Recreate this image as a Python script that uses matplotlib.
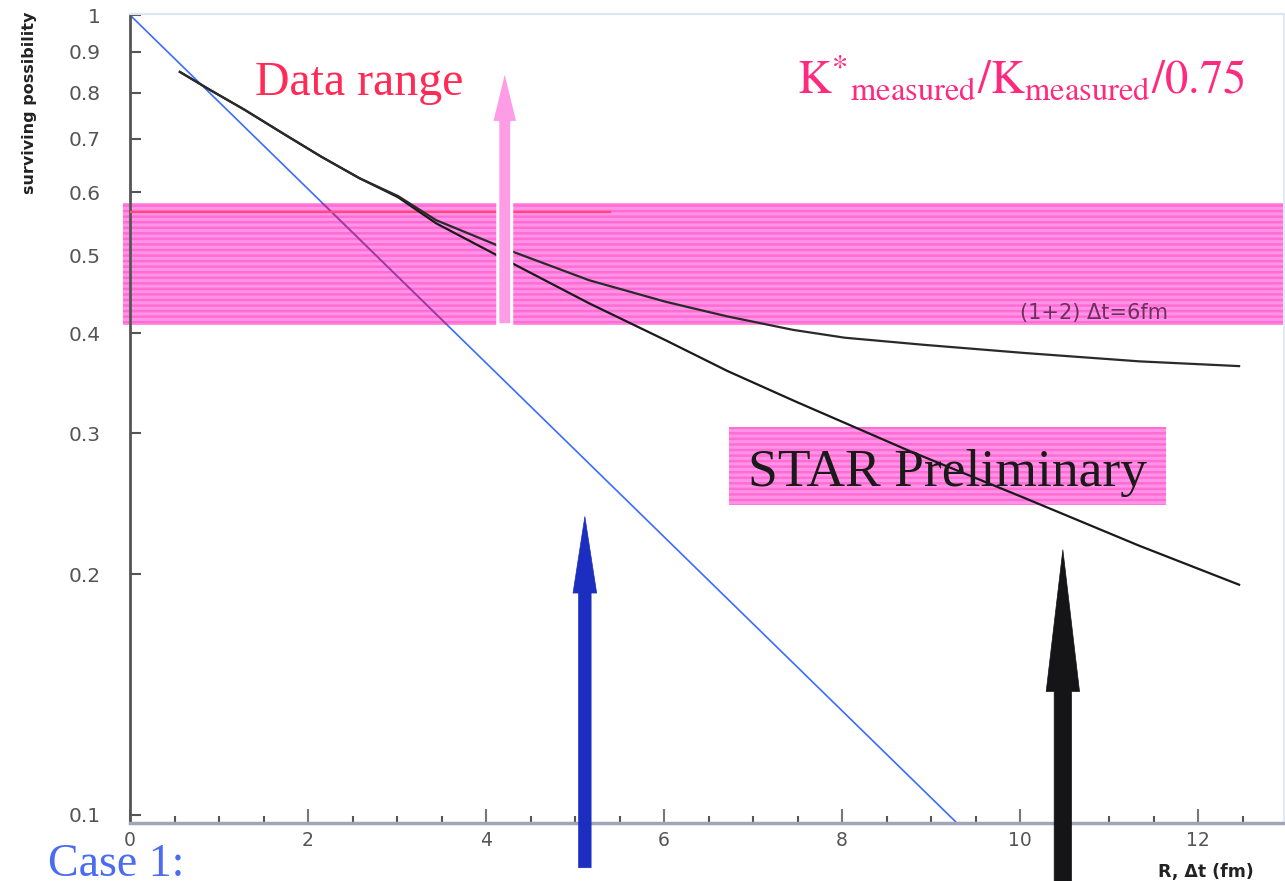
import matplotlib
matplotlib.use("Agg")
import matplotlib.pyplot as plt
from matplotlib.patches import Rectangle
from matplotlib.ticker import FixedLocator, NullLocator, MultipleLocator, FixedFormatter

plt.rcParams['mathtext.fontset'] = 'stix'
plt.rcParams['hatch.linewidth'] = 2.2

# ---------------- data ----------------
# exponential decay (straight in log-y)
blue_x = [0.0, 9.29]
blue_y = [1.0, 0.0977]

# curve that keeps falling
lower_x = [0.56, 0.90, 1.29, 1.72, 2.15, 2.58, 3.01, 3.44, 4.30, 5.16, 6.02, 6.71,
           7.47, 8.76, 10.05, 11.34, 12.46]
lower_y = [0.849, 0.806, 0.761, 0.711, 0.665, 0.625, 0.592, 0.549, 0.489, 0.436, 0.392, 0.359,
           0.329, 0.285, 0.249, 0.217, 0.194]

# curve that flattens: (1+2) dt = 6 fm
upper_x = [0.56, 0.90, 1.29, 1.72, 2.15, 2.58, 3.01, 3.44, 4.30, 5.16, 6.02, 6.71,
           7.45, 8.03, 8.92, 10.05, 11.34, 12.46]
upper_y = [0.849, 0.806, 0.761, 0.711, 0.665, 0.625, 0.594, 0.554, 0.506, 0.466, 0.438, 0.420,
           0.404, 0.395, 0.387, 0.378, 0.369, 0.364]

# measured band K*/K/0.75
band_x = [-0.08, 12.98]
band_y = [0.410, 0.582]
redline_x = [0.0, 5.39]
redline_y = [0.567, 0.567]

# STAR Preliminary box
star_x = [6.73, 11.64]
star_y = [0.2443, 0.3055]

# arrows: (x, base, tip)
pink_arrow = (4.21, 0.410, 0.858)
blue_arrow = (5.11, 0.0859, 0.236)
black_arrow = (10.48, 0.080, 0.2145)

yticks = [0.1, 0.2, 0.3, 0.4, 0.5, 0.6, 0.7, 0.8, 0.9, 1.0]
ytick_labels = ["0.1", "0.2", "0.3", "0.4", "0.5", "0.6", "0.7", "0.8", "0.9", "1"]
xticks = [0, 2, 4, 6, 8, 10, 12]

# ---------------- figure ----------------
fig = plt.figure(figsize=(12.85, 8.81), dpi=100)
ax = fig.add_axes([130/1285, 1 - 823/881, (1283.6 - 130)/1285, (823 - 14)/881])
ax.set_yscale('log')
ax.set_xlim(0, 12.96)
ax.set_ylim(0.0977, 1.003)

# blue line
ax.plot(blue_x, blue_y, color='#3a6cff', lw=1.2, zorder=1, solid_capstyle='butt')

# band
band = Rectangle((band_x[0], band_y[0]), band_x[1] - band_x[0], band_y[1] - band_y[0],
                 facecolor='#ff6cd6', edgecolor='#ff94e6', hatch='---', lw=0,
                 zorder=2, clip_on=False)
ax.add_patch(band)
# blue line seen through band
bl2, = ax.plot(blue_x, blue_y, color='#9a3aa0', lw=1.4, zorder=3)
bl2.set_clip_path(band)
ax.plot(redline_x, redline_y, color='#ff4a7a', lw=1.6, zorder=3)

# STAR box
box = Rectangle((star_x[0], star_y[0]), star_x[1] - star_x[0], star_y[1] - star_y[0],
                facecolor='#ff6cd6', edgecolor='#ff94e6', hatch='---', lw=0, zorder=2)
ax.add_patch(box)
ax.text(6.94, 0.258, "STAR Preliminary", family='Liberation Serif', fontsize=38.5,
        color='#1a1a1a', va='baseline', ha='left', zorder=4)

# curves
ax.plot(lower_x, lower_y, color='#1a1a1a', lw=1.6, zorder=5)
ax.plot(upper_x, upper_y, color='#2a2a2a', lw=1.6, zorder=5)

# arrows
def arrow(spec, fc, ec, hw, hl, tw, lw, z):
    x, base, tip = spec
    ax.annotate('', xy=(x, tip), xytext=(x, base), annotation_clip=False, zorder=z,
                arrowprops=dict(arrowstyle=f'simple,head_width={hw},head_length={hl},tail_width={tw}',
                                mutation_scale=1, fc=fc, ec=ec, lw=lw, shrinkA=0, shrinkB=0,
                                clip_on=False))

arrow(pink_arrow, '#ff9ce6', 'white', 19, 39, 10, 2.2, 6)
arrow(blue_arrow, '#1c2ec0', '#1c2ec0', 17, 55, 9, 0.5, 6)
arrow(black_arrow, '#151518', '#151518', 24, 102, 12.5, 0.5, 6)

# texts
ax.text(1.40, 0.794, "Data range", family='Liberation Serif', fontsize=34.5,
        color='#ff2a55', va='baseline', ha='left')
ax.text(7.49, 0.794, r'$\mathrm{K}^{*}{}_{\mathrm{measured}}/\mathrm{K}_{\mathrm{measured}}/0.75$',
        fontsize=33.5, color='#ff2a80', va='baseline', ha='left')
ax.text(10.0, 0.424, "(1+2) \u0394t=6fm", fontsize=15, color='#6a3060',
        va='center', ha='left', zorder=4)

# axes styling
ax.yaxis.set_major_locator(FixedLocator(yticks))
ax.yaxis.set_major_formatter(FixedFormatter(ytick_labels))
ax.yaxis.set_minor_locator(NullLocator())
ax.xaxis.set_major_locator(FixedLocator(xticks))
ax.xaxis.set_minor_locator(MultipleLocator(0.5))
ax.tick_params(axis='y', which='major', direction='in', length=8, width=1.5, color='#555555',
               labelsize=14.5, labelcolor='#555555', pad=21)
ax.tick_params(axis='x', which='major', direction='in', length=10, width=1.5, color='#777777',
               labelsize=13.5, labelcolor='#555555', pad=6)
ax.tick_params(axis='x', which='minor', direction='in', length=5, width=1.5, color='#555555')
ax.spines['left'].set_color('#555555')
ax.spines['left'].set_linewidth(2)
ax.spines['bottom'].set_color('#a0a6b8')
ax.spines['bottom'].set_linewidth(2.5)
ax.spines['top'].set_color('#dde6f4')
ax.spines['top'].set_linewidth(1.5)
ax.spines['right'].set_color('#e4eaf2')
ax.spines['right'].set_linewidth(1.5)
ax.set_zorder(1)

fig.text(30/1285, 1 - 12/881, "surviving possibility", rotation=90, va='top', ha='center',
         fontsize=11.5, fontweight='bold', color='#222222')
fig.text(1158/1285, 1 - 872/881, "R, \u0394t (fm)", va='center', ha='left',
         fontsize=12.5, fontweight='bold', color='#222222')
fig.text(48/1285, 1 - 876/881, "Case 1:", va='baseline', ha='left', family='Liberation Serif',
         fontsize=33, color='#4a6cf0')

fig.savefig("out.png", dpi=100)
